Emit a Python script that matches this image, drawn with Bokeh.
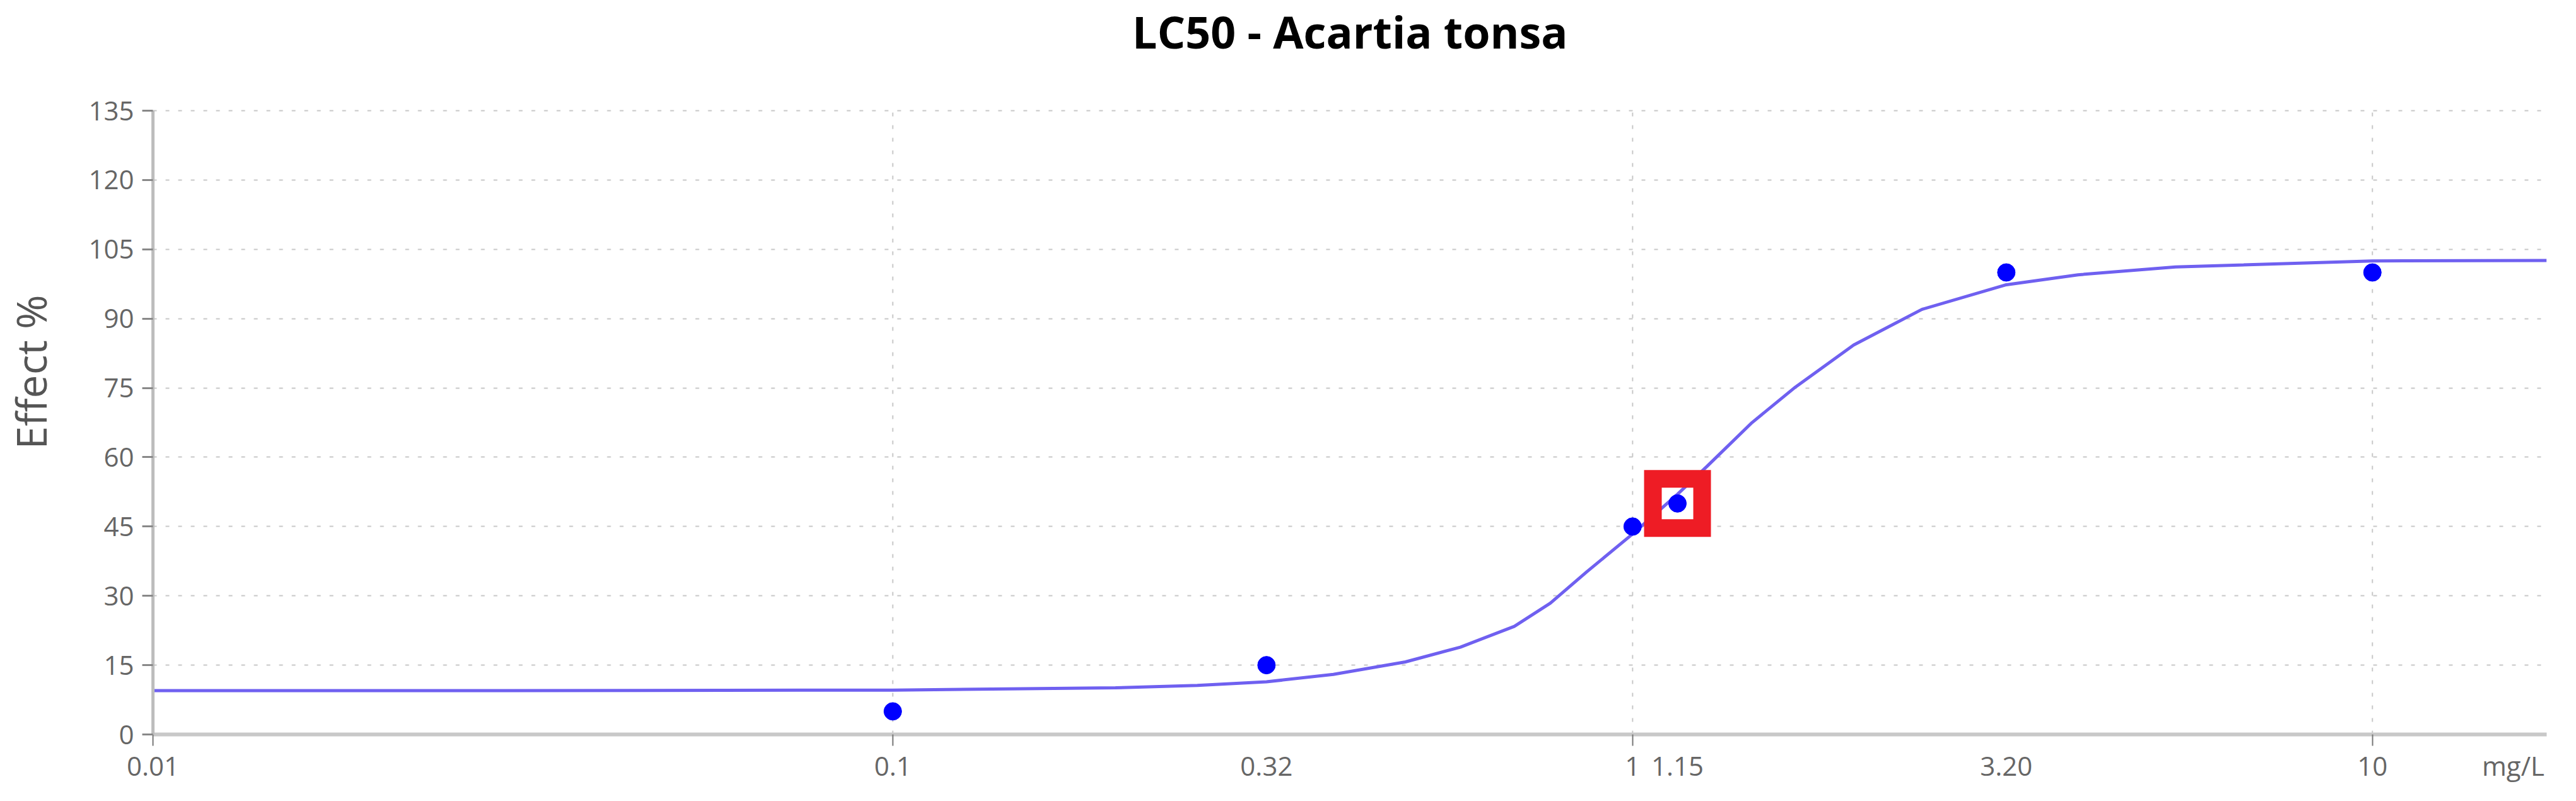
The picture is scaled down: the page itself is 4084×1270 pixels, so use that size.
from bokeh.plotting import figure
from bokeh.models import Range1d, FixedTicker, Label
from bokeh.embed import file_html
from bokeh.resources import INLINE

# ---- data ----
title_text = "LC50 - Acartia tonsa"
conc_points = [0.1, 0.32, 1.0, 1.15, 3.2, 10.0]
effect_points = [5, 15, 45, 50, 100, 100]

curve_x = [0.01, 0.03, 0.1, 0.2, 0.258, 0.32, 0.394, 0.493, 0.585, 0.692, 0.774,
           0.867, 1.0, 1.15, 1.26, 1.45, 1.66, 1.99, 2.46, 3.19, 4.0, 5.42, 10.0, 17.2]
curve_y = [9.5, 9.5, 9.6, 10.1, 10.6, 11.4, 13.0, 15.7, 18.9, 23.4, 28.4,
           35.2, 43.4, 52.0, 58.0, 67.5, 75.2, 84.3, 92.0, 97.3, 99.5, 101.2, 102.5, 102.6]

lc50_x = [1.15]
lc50_y = [50]

x_ticks = [0.01, 0.1, 0.32, 1, 1.15, 3.2, 10]
x_tick_labels = ["0.01", "0.1", "0.32", "1", "1.15", "3.20", "10"]
x_decades = [0.01, 0.1, 1, 10]
y_ticks = [0, 15, 30, 45, 60, 75, 90, 105, 120, 135]
x_unit = "mg/L"
x_unit_at = 15.5
y_label = "Effect %"

FONT = "Open Sans"
GRAY = "#666666"

# layout constants: headroom above the 0-135 axis holds the title
Y_MAX_AXIS = y_ticks[-1]
Y_TOP = 156.86
TITLE_X, TITLE_Y = 0.415, 152.2

p = figure(width=4068, height=1254, x_axis_type="log",
           x_range=Range1d(0.01, 17.2), y_range=Range1d(0, Y_TOP),
           output_backend="svg", toolbar_location=None,
           min_border_left=234, min_border_right=31,
           min_border_top=15, min_border_bottom=90)
p.outline_line_color = None
p.background_fill_color = "white"
p.title.text = ""

# title
p.add_layout(Label(x=TITLE_X, y=TITLE_Y, text=title_text, text_font=FONT,
                   text_font_style="bold", text_font_size="70px",
                   text_color="black", text_align="center",
                   text_baseline="middle"))

# grid: horizontal via the axis grid, vertical as dotted segments up to 135
p.xgrid.visible = False
p.ygrid.ticker = FixedTicker(ticks=y_ticks)
p.ygrid.grid_line_color = "#c8c8c8"
p.ygrid.grid_line_width = 2
p.ygrid.grid_line_dash = "6 14"
p.segment(x0=x_decades[1:], y0=[0] * 3, x1=x_decades[1:], y1=[Y_MAX_AXIS] * 3,
          line_color="#c8c8c8", line_width=2, line_dash="6 14")

# x axis (unit shown as a trailing label)
all_ticks = x_ticks + [x_unit_at]
all_labels = x_tick_labels + [x_unit]
xa = p.xaxis[0]
xa.ticker = FixedTicker(ticks=all_ticks, minor_ticks=x_decades)
xa.major_label_overrides = {t: l for t, l in zip(all_ticks, all_labels)}
xa.major_tick_out = 0
xa.major_tick_in = 0
xa.minor_tick_out = 18
xa.minor_tick_in = 0
xa.minor_tick_line_color = "#777777"
xa.minor_tick_line_width = 2
xa.axis_line_color = "#c8c8c8"
xa.axis_line_width = 6
xa.major_label_text_font = FONT
xa.major_label_text_font_size = "42px"
xa.major_label_text_color = GRAY
xa.major_label_standoff = 2

# y axis
ya = p.yaxis[0]
ya.ticker = FixedTicker(ticks=y_ticks)
ya.bounds = (0, Y_MAX_AXIS)
ya.minor_tick_out = 0
ya.minor_tick_in = 0
ya.major_tick_out = 17
ya.major_tick_in = 0
ya.major_tick_line_color = "#888888"
ya.major_tick_line_width = 3
ya.axis_line_color = "#bdbdbd"
ya.axis_line_width = 5
ya.major_label_text_font = FONT
ya.major_label_text_font_size = "42px"
ya.major_label_text_color = GRAY
ya.major_label_standoff = 13
ya.axis_label = y_label
ya.axis_label_text_font = FONT
ya.axis_label_text_font_style = "normal"
ya.axis_label_text_font_size = "66px"
ya.axis_label_text_color = "#555555"
ya.axis_label_standoff = 44

# curve, highlight box, points
p.line(curve_x, curve_y, line_color="#6f60f0", line_width=5)
p.scatter(lc50_x, lc50_y, marker="square", size=78, fill_color=None,
          line_color="#ee1c25", line_width=28, line_join="miter")
p.scatter(conc_points, effect_points, marker="circle", size=28,
          fill_color="#0000ff", line_color="#0000ff")

open("out.html", "w").write(file_html(p, INLINE))
